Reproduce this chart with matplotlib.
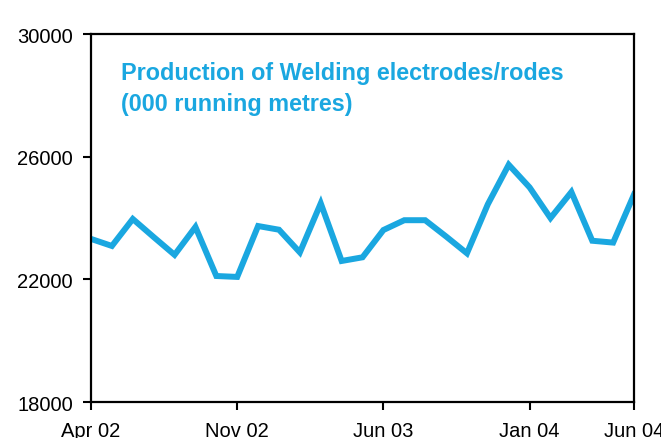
import matplotlib.pyplot as plt

plt.rcParams['font.family'] = ['Liberation Sans', 'DejaVu Sans']

# monthly production, Apr 02 .. Jun 04 (000 running metres)
months = list(range(27))
production = [23320, 23090, 23970, 23380, 22800, 23710, 22110, 22080, 23740,
              23620, 22880, 24480, 22600, 22720, 23610, 23930, 23930, 23400,
              22850, 24450, 25740, 25000, 24000, 24850, 23260, 23200, 24770]
tick_pos = [0, 7, 14, 21, 26]
tick_labels = ['Apr 02', 'Nov 02', 'Jun 03', 'Jan 04', 'Jun 04']
yticks = [18000, 22000, 26000, 30000]

blue = '#1aa7e0'

fig = plt.figure(figsize=(6.61, 4.39), dpi=100)
ax = fig.add_axes([0.1377, 0.082, 0.8215, 0.838])

ax.plot(months, production, color=blue, linewidth=4.3, solid_joinstyle='miter')

ax.set_xlim(0, 26)
ax.set_ylim(18000, 30000)
ax.set_xticks(tick_pos)
ax.set_xticklabels(tick_labels)
ax.set_yticks(yticks)
ax.tick_params(axis='both', direction='out', length=6, width=1.5, labelsize=14.5, colors='black')
ax.tick_params(axis='x', pad=8)
ax.tick_params(axis='y', pad=7)
for s in ax.spines.values():
    s.set_linewidth(1.6)

ax.text(0.055, 0.928, 'Production of Welding electrodes/rodes\n(000 running metres)',
        transform=ax.transAxes, ha='left', va='top', color=blue,
        fontsize=16.8, fontweight='bold', linespacing=1.45)

fig.savefig('out.png', dpi=100)
